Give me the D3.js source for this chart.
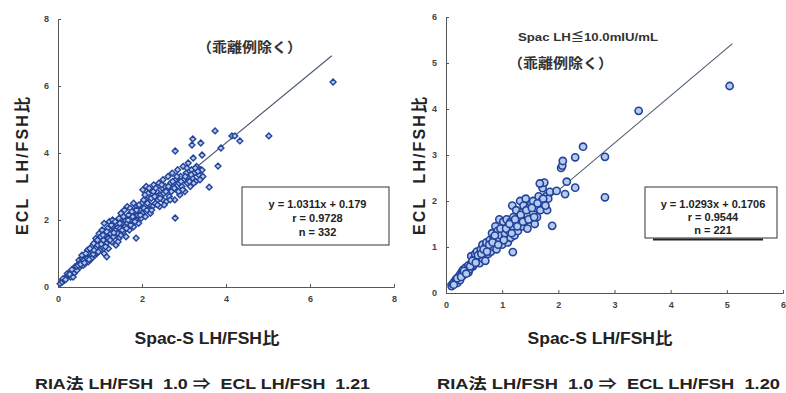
<!DOCTYPE html>
<html>
<head>
<meta charset="utf-8">
<script src="https://cdn.jsdelivr.net/npm/d3@7"></script>
<style>
  body { margin: 0; background: #fff; }
  svg { display: block; }
  text { font-family: "Liberation Sans", Arial, "Noto Sans CJK JP", sans-serif; font-weight: bold; }
</style>
</head>
<body>
<div id="chart"></div>
<script>
const width = 786;
const height = 393;

// ********* DATA *********
// left panel: all samples, diamonds
var leftPoints = [
  [0.05,0.1],[0.1,0.15],[0.15,0.2],[0.2,0.3],[0.22,0.4],[0.25,0.35],[0.3,0.45],[0.3,0.3],[0.35,0.5],[0.38,0.4],
  [0.4,0.6],[0.42,0.55],[0.45,0.5],[0.5,0.7],[0.5,0.8],[0.52,0.6],[0.55,0.75],[0.58,0.85],[0.6,0.65],[0.6,0.9],
  [0.62,0.8],[0.65,0.7],[0.68,0.95],[0.7,0.85],[0.7,1.1],[0.72,0.75],[0.75,1.0],[0.78,0.9],[0.8,1.2],[0.8,0.85],
  [0.82,1.05],[0.85,1.3],[0.88,0.95],[0.9,1.15],[0.9,1.45],[0.92,1.0],[0.95,1.25],[0.98,1.6],[1.0,1.1],[1.0,1.35],
  [1.02,1.5],[1.05,1.2],[1.05,1.7],[1.08,1.4],[1.1,1.0],[1.1,1.9],[1.12,1.55],[1.15,1.3],[1.18,1.75],[1.2,1.15],
  [1.2,1.45],[1.22,1.95],[1.25,1.6],[1.28,1.35],[1.3,1.8],[1.3,2.0],[1.32,1.5],[1.35,1.7],[1.38,1.25],[1.4,1.9],
  [1.42,1.6],[1.45,2.05],[1.45,1.45],[1.48,1.75],[1.5,1.55],[1.5,2.2],[1.52,1.9],[1.55,1.65],[1.58,2.3],[1.6,1.8],
  [1.6,2.0],[1.62,1.5],[1.65,2.4],[1.65,1.9],[1.68,2.15],[1.7,1.7],[1.72,2.35],[1.75,1.95],[1.78,2.1],[1.8,2.5],
  [1.8,1.8],[1.82,2.25],[1.85,2.0],[1.88,2.4],[1.9,2.15],[1.92,1.9],[1.95,2.3],[1.98,2.05],[2.0,2.5],[2.0,2.2],
  [2.02,2.9],[2.05,2.35],[2.08,2.1],[2.1,2.6],[2.1,3.0],[2.12,2.3],[2.15,2.8],[2.18,2.45],[2.2,2.2],[2.2,2.9],
  [2.22,2.65],[2.25,2.4],[2.28,3.05],[2.3,2.7],[2.32,2.5],[2.35,2.85],[2.38,2.6],[2.4,3.1],[2.42,2.4],[2.45,2.75],
  [2.48,2.95],[2.5,2.6],[2.5,3.2],[2.52,2.8],[2.55,3.0],[2.58,2.55],[2.6,2.9],[2.62,3.3],[2.65,2.7],[2.68,3.1],
  [2.7,2.85],[2.72,3.4],[2.75,3.0],[2.78,2.6],[2.8,3.2],[2.82,2.9],[2.85,3.5],[2.88,3.1],[2.9,2.75],[2.92,3.3],
  [2.95,3.0],[2.98,3.6],[3.0,3.2],[3.02,2.85],[3.05,3.4],[3.08,3.1],[3.1,3.7],[3.12,3.3],[3.15,3.0],[3.18,3.5],
  [3.2,3.25],[3.22,3.85],[3.25,3.4],[3.28,3.15],[3.3,3.6],[3.35,3.35],[3.4,3.5],[3.45,3.3],[3.43,3.49],
  [0.12,0.25],[0.18,0.22],[0.28,0.38],[0.33,0.52],[0.36,0.3],[0.44,0.62],[0.48,0.65],[0.54,0.68],[0.57,0.95],[0.63,0.72],
  [0.66,1.0],[0.74,0.82],[0.76,1.15],[0.84,0.98],[0.86,1.1],[0.94,1.4],[0.96,1.05],[1.03,1.28],[1.07,1.55],[1.13,1.2],
  [1.16,1.65],[1.24,1.4],[1.27,1.85],[1.33,1.62],[1.36,1.95],[1.43,1.35],[1.47,1.9],[1.53,1.7],[1.56,2.1],[1.63,1.75],
  [1.67,2.0],[1.73,1.85],[1.76,2.25],[1.83,1.95],[1.87,2.3],[1.93,2.45],[1.96,2.15],[2.04,2.6],[2.07,2.75],[2.13,2.5],
  [2.17,2.95],[2.23,2.3],[2.27,2.85],[2.33,2.95],[2.37,2.45],[2.43,2.65],[2.47,3.05],[2.53,2.45],[2.57,2.85],[2.63,3.0],
  [2.67,2.6],[2.73,3.15],[2.77,2.95],[2.83,3.3],[2.87,2.85],[2.93,3.15],[2.97,2.9],[3.03,3.3],[3.07,3.55],[3.13,3.15],
  [3.17,3.35],[3.23,3.1],[3.27,3.55],[3.33,3.45],[3.38,3.2],
  [6.55,6.12],[5.02,4.51],[3.74,4.66],[4.14,4.51],[4.21,4.51],[4.33,4.36],[3.88,4.15],[3.81,3.61],[3.6,2.98],
  [3.21,4.42],[3.4,4.3],[3.19,4.24],[3.43,3.94],[2.79,2.06],[2.79,4.06],[1.86,1.46],[1.16,0.9]
];
// right panel: Spac LH <= 10.0, circles
var rightPoints = [
  [0.1,0.15],[0.12,0.2],[0.15,0.25],[0.18,0.3],[0.2,0.22],[0.22,0.35],[0.25,0.4],[0.25,0.28],[0.28,0.45],[0.3,0.38],
  [0.3,0.5],[0.33,0.42],[0.35,0.55],[0.38,0.48],[0.4,0.6],[0.4,0.45],[0.42,0.52],[0.45,0.65],[0.45,0.8],[0.48,0.58],
  [0.5,0.75],[0.5,0.62],[0.52,0.85],[0.55,0.7],[0.55,0.9],[0.58,0.78],[0.6,0.65],[0.6,0.85],[0.62,0.95],[0.65,0.75],
  [0.65,1.05],[0.68,0.88],[0.7,0.7],[0.7,1.0],[0.72,1.1],[0.75,0.85],[0.75,0.95],[0.78,1.15],[0.8,0.9],[0.8,1.05],
  [0.82,1.3],[0.85,1.0],[0.85,1.2],[0.88,1.45],[0.9,1.1],[0.9,0.95],[0.92,1.35],[0.95,1.6],[0.95,1.15],[0.98,1.25],
  [1.0,1.05],[1.0,1.4],[1.02,1.55],[1.05,1.2],[1.05,1.3],[1.08,1.6],[1.1,1.1],[1.1,1.45],[1.12,1.35],[1.15,1.55],
  [1.15,1.2],[1.18,1.9],[1.2,1.4],[1.2,1.65],[1.22,1.25],[1.25,1.5],[1.25,1.8],[1.28,1.35],[1.3,1.6],[1.32,2.0],
  [1.35,1.45],[1.35,1.75],[1.38,1.9],[1.4,1.55],[1.42,2.05],[1.45,1.7],[1.45,1.4],[1.48,1.85],[1.5,1.6],[1.52,1.95],
  [1.55,1.75],[1.55,2.0],[1.58,1.5],[1.6,1.85],[1.62,1.65],[1.65,2.1],[1.68,1.8],[1.7,2.0],[1.72,2.28],[1.75,2.4],
  [1.67,2.38],[1.78,2.1],[1.8,1.8],[1.82,2.05],[1.85,2.2],
  [0.14,0.18],[0.2,0.32],[0.27,0.35],[0.32,0.48],[0.36,0.42],[0.43,0.58],[0.47,0.7],[0.53,0.66],[0.57,0.82],[0.63,0.85],
  [0.67,0.95],[0.73,0.9],[0.77,1.05],[0.83,1.1],[0.87,1.25],[0.93,1.05],[0.97,1.4],[1.03,1.15],[1.07,1.4],[1.13,1.5],
  [1.17,1.3],[1.23,1.6],[1.27,1.45],[1.33,1.7],[1.37,1.55],[1.43,1.8],[1.47,1.6],[1.53,1.85],[1.57,1.65],[1.63,1.95],
  [1.73,2.05],[1.77,1.9],
  [1.97,2.22],[2.12,2.15],[2.15,2.42],[2.05,2.72],[2.07,2.77],
  [2.08,2.87],[2.3,2.29],[2.3,2.95],[2.44,3.18],[2.83,2.96],[2.83,2.08],[3.43,3.96],[5.05,4.5],[1.89,1.46],[1.19,0.89]
];
// regression lines and legend text
var leftFit = {slope: 1.0311, intercept: 0.179, xEnd: 6.52};
var rightFit = {slope: 1.0293, intercept: 0.1706, xEnd: 5.1};
var leftLegend = ["y = 1.0311x + 0.179", "r = 0.9728", "n = 332"];
var rightLegend = ["y = 1.0293x + 0.1706", "r = 0.9544", "n = 221"];
var leftTicks = [0, 2, 4, 6, 8];
var rightTicks = [0, 1, 2, 3, 4, 5, 6];

var pointStroke = "#23429a";
var pointFill = "#b4cbee";

// ********* Create SVG *********
var svg = d3.select("#chart").append("svg")
  .attr("width", width)
  .attr("height", height);

function drawPanel(p) {
  var x = d3.scaleLinear().domain([0, p.max]).range([p.left, p.right]);
  var y = d3.scaleLinear().domain([0, p.max]).range([p.bottom, p.top]);
  var g = svg.append("g");

  // axes: small inward ticks
  var xAxis = d3.axisBottom(x).tickValues(p.ticks).tickSize(-3).tickPadding(9).tickFormat(d3.format("d"));
  var yAxis = d3.axisLeft(y).tickValues(p.ticks).tickSize(-3).tickPadding(9).tickFormat(d3.format("d"));
  g.append("g").attr("transform", `translate(0, ${p.bottom})`).call(xAxis);
  g.append("g").attr("transform", `translate(${p.left}, 0)`).call(yAxis);
  g.selectAll(".domain").attr("stroke", "#555");
  g.selectAll(".tick line").attr("stroke", "#555");
  g.selectAll(".tick text")
    .style("font-size", "9px")
    .style("font-weight", "bold")
    .attr("fill", "#444");

  // regression line
  g.append("line")
    .attr("x1", x(0)).attr("y1", y(p.fit.intercept))
    .attr("x2", x(p.fit.xEnd)).attr("y2", y(p.fit.slope * p.fit.xEnd + p.fit.intercept))
    .attr("stroke", "#4b5870")
    .attr("stroke-width", 1.1);

  // points
  if (p.shape === "diamond") {
    g.selectAll(".pt").data(p.data).enter().append("path")
      .attr("class", "pt")
      .attr("d", d3.symbol().type(d3.symbolDiamond2).size(22))
      .attr("transform", d => `translate(${x(d[0])}, ${y(d[1])})`)
      .attr("fill", pointFill)
      .attr("stroke", pointStroke)
      .attr("stroke-width", 1.4);
  } else {
    g.selectAll(".pt").data(p.data).enter().append("circle")
      .attr("class", "pt")
      .attr("cx", d => x(d[0]))
      .attr("cy", d => y(d[1]))
      .attr("r", 3.6)
      .attr("fill", pointFill)
      .attr("stroke", pointStroke)
      .attr("stroke-width", 1.6);
  }

  // legend box
  var b = p.box;
  g.append("rect")
    .attr("x", b.x).attr("y", b.y).attr("width", b.w).attr("height", b.h)
    .attr("fill", "#fff").attr("stroke", "#333").attr("stroke-width", 1);
  if (p.boxShadow) {
    g.append("line")
      .attr("x1", b.x + 8).attr("x2", b.x + b.w - 14)
      .attr("y1", b.y + b.h + 1.5).attr("y2", b.y + b.h + 1.5)
      .attr("stroke", "#222").attr("stroke-width", 2);
  }
  g.selectAll(".leg").data(p.legend).enter().append("text")
    .attr("x", b.x + b.w / 2 + 2)
    .attr("y", (d, i) => b.y + 21 + i * b.step)
    .attr("text-anchor", "middle")
    .style("font-size", "11px")
    .attr("fill", "#222")
    .text(d => d);

  // axis titles
  g.append("text")
    .attr("transform", `translate(${p.yTitleX}, 166) rotate(-90)`)
    .attr("text-anchor", "middle")
    .attr("textLength", 138).attr("lengthAdjust", "spacing")
    .style("font-size", "16px")
    .attr("fill", "#222")
    .text("ECL\u00a0\u00a0LH/FSH比");
  g.append("text")
    .attr("x", p.xTitleX).attr("y", 344)
    .attr("text-anchor", "middle")
    .attr("textLength", 145).attr("lengthAdjust", "spacingAndGlyphs")
    .style("font-size", "16px")
    .attr("fill", "#222")
    .text("Spac-S LH/FSH比");

  // bottom summary line
  g.append("text")
    .attr("x", p.sumX).attr("y", 389)
    .attr("textLength", p.sumW).attr("lengthAdjust", "spacingAndGlyphs")
    .style("font-size", "15px")
    .style("font-family", "'Liberation Sans Narrow', 'Liberation Sans', 'Noto Sans CJK JP', sans-serif")
    .attr("fill", "#222")
    .text(p.summary);
  return g;
}

var gl = drawPanel({
  left: 58, right: 394, bottom: 287, top: 19, max: 8, ticks: leftTicks,
  data: leftPoints, shape: "diamond", fit: leftFit, legend: leftLegend,
  box: {x: 242, y: 187, w: 147, h: 58, step: 14}, boxShadow: false,
  yTitleX: 28, xTitleX: 207, sumX: 35, sumW: 335,
  summary: "RIA法 LH/FSH\u00a0\u00a01.0 ⇒\u00a0\u00a0ECL LH/FSH\u00a0\u00a01.21"
});
gl.append("text")
  .attr("x", 197).attr("y", 52)
  .attr("textLength", 105).attr("lengthAdjust", "spacingAndGlyphs")
  .style("font-size", "14px")
  .style("font-family", "'Noto Sans CJK JP', sans-serif")
  .attr("fill", "#333")
  .text("（乖離例除く）");

var gr = drawPanel({
  left: 446, right: 783, bottom: 293, top: 17, max: 6, ticks: rightTicks,
  data: rightPoints, shape: "circle", fit: rightFit, legend: rightLegend,
  box: {x: 645, y: 187, w: 132, h: 51, step: 13}, boxShadow: true,
  yTitleX: 425, xTitleX: 600, sumX: 437, sumW: 343,
  summary: "RIA法 LH/FSH\u00a0\u00a01.0 ⇒\u00a0\u00a0ECL LH/FSH\u00a0\u00a01.20"
});
gr.append("text")
  .attr("x", 518).attr("y", 41)
  .attr("textLength", 140).attr("lengthAdjust", "spacingAndGlyphs")
  .style("font-size", "11px")
  .attr("fill", "#333")
  .text("Spac LH≦10.0mIU/mL");
gr.append("text")
  .attr("x", 508).attr("y", 68)
  .attr("textLength", 105).attr("lengthAdjust", "spacingAndGlyphs")
  .style("font-size", "14px")
  .style("font-family", "'Noto Sans CJK JP', sans-serif")
  .attr("fill", "#333")
  .text("（乖離例除く）");
</script>
</body>
</html>
